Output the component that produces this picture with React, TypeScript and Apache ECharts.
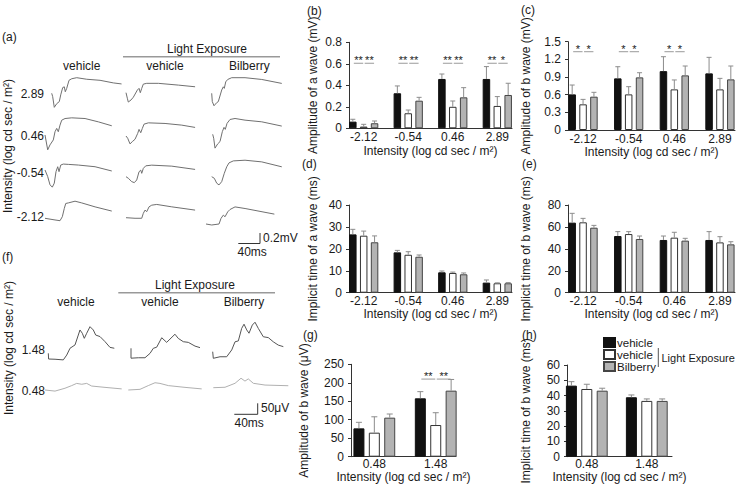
import React, { useEffect, useRef } from "react";
import * as echarts from "echarts";

const FONT = "'Liberation Sans', Arial, Helvetica, sans-serif";
const TEXT = "#1a1a1a";

// ---------- categories ----------
const intensityScotopic = ["-2.12", "-0.54", "0.46", "2.89"];
const intensityPhotopic = ["0.48", "1.48"];
const groupNames = ["vehicle", "vehicle ", "Bilberry"];

// ---------- (b) amplitude of a wave (mV) ----------
const bVehMean = [0.062, 0.326, 0.459, 0.459];
const bVehSd = [0.022, 0.068, 0.046, 0.115];
const bLEMean = [0.016, 0.14, 0.2, 0.208];
const bLESd = [0.021, 0.03, 0.054, 0.087];
const bBilMean = [0.047, 0.257, 0.288, 0.31];
const bBilSd = [0.021, 0.031, 0.09, 0.109];
const bSig = [[0, 0, 0.605], [0, 1, 0.605], [1, 0, 0.605], [1, 1, 0.605], [2, 0, 0.605], [2, 1, 0.605], [3, 0, 0.605], [3, 1, 0.605]];
const bSigText = ["**", "**", "**", "**", "**", "**", "**", "*"];

// ---------- (c) amplitude of b wave (mV) ----------
const cVehMean = [0.605, 0.877, 1.0, 0.962];
const cVehSd = [0.159, 0.198, 0.245, 0.272];
const cLEMean = [0.436, 0.605, 0.69, 0.69];
const cLESd = [0.084, 0.131, 0.16, 0.187];
const cBilMean = [0.566, 0.894, 0.928, 0.86];
const cBilSd = [0.074, 0.079, 0.159, 0.227];
const cSig = [[0, 0, 1.33], [0, 1, 1.33], [1, 0, 1.33], [1, 1, 1.33], [2, 0, 1.33], [2, 1, 1.33]];
const cSigText = ["*", "*", "*", "*", "*", "*"];

// ---------- (d) implicit time of a wave (ms) ----------
const dVehMean = [26.6, 18.4, 9.3, 4.6];
const dVehSd = [2.3, 0.9, 0.6, 1.2];
const dLEMean = [26.0, 17.3, 9.0, 4.3];
const dLESd = [2.1, 1.4, 0.4, 0.2];
const dBilMean = [23.0, 16.4, 8.4, 4.3];
const dBilSd = [2.9, 0.8, 0.6, 0.3];

// ---------- (e) implicit time of b wave (ms) ----------
const eVehMean = [63.9, 51.7, 48.1, 48.1];
const eVehSd = [8.5, 4.0, 3.6, 7.6];
const eLEMean = [64.2, 53.5, 50.2, 45.9];
const eLESd = [3.6, 2.2, 4.9, 5.2];
const eBilMean = [59.3, 49.0, 47.5, 44.1];
const eBilSd = [2.1, 2.7, 2.1, 2.4];

// ---------- (g) amplitude of b wave (uV), photopic ----------
const gVehMean = [76.7, 158];
const gVehSd = [16.3, 18];
const gLEMean = [65, 85.7];
const gLESd = [43, 33.3];
const gBilMean = [105.6, 178.7];
const gBilSd = [9.9, 30.3];
const gSig = [[1, 0, 210], [1, 1, 210]];
const gSigText = ["**", "**"];

// ---------- (h) implicit time of b wave (ms), photopic ----------
const hVehMean = [46.5, 38.9];
const hVehSd = [2.6, 1.5];
const hLEMean = [44.3, 36.5];
const hLESd = [3.1, 1.3];
const hBilMean = [43.2, 36.5];
const hBilSd = [1.6, 1.3];

// ---------- (a) scotopic ERG traces [ms, mV] ----------
const trA289Veh = [[0, 0], [1.8, -0.065], [4.7, -0.27], [9.1, -0.2], [13.8, -0.16], [16.4, -0.03], [20, 0.11], [22.9, 0.125], [24.7, 0.03], [27.3, 0.095], [31.5, 0.25], [36.4, 0.28], [45.5, 0.3], [63.7, 0.27], [87.9, 0.25], [112, 0.2], [127, 0.18]];
const trA289LE = [[0, 0], [2.4, -0.106], [4.2, -0.18], [9.1, -0.14], [13.3, -0.087], [20.6, 0.05], [23.7, 0.084], [26, 0], [28.6, 0.084], [31.5, 0.165], [37.7, 0.18], [58.8, 0.18], [95.2, 0.146], [125.6, 0.114]];
const trA289Bil = [[0, 0], [1.1, -0.16], [4.2, -0.24], [9.1, -0.18], [12, -0.16], [18.2, 0.063], [21.1, 0.125], [22.9, 0.095], [25.5, 0.22], [29.1, 0.266], [36.4, 0.3], [60.6, 0.3], [91, 0.266], [127.4, 0.19]];
const trA046Veh = [[0, 0], [4.9, -0.285], [9.1, -0.19], [15.1, -0.095], [18.2, 0.063], [21.3, 0.127], [24.2, 0.063], [27.3, 0.19], [30.4, 0.285], [36.4, 0.317], [48.6, 0.33], [72.8, 0.317], [97, 0.253], [121.4, 0.177]];
const trA046LE = [[0, 0], [3.1, -0.044], [7.3, -0.152], [11.5, -0.108], [16.4, -0.063], [21.3, 0.051], [23.7, 0.127], [26.8, 0.063], [29.7, 0.146], [32.8, 0.228], [40.6, 0.253], [71, 0.241], [101.4, 0.209], [125.6, 0.165]];
const trA046Bil = [[0, 0], [1.8, -0.076], [4.2, -0.266], [9.1, -0.184], [13.3, -0.14], [17.5, 0.05], [20.6, 0.133], [22.9, 0.095], [26, 0.209], [31.5, 0.285], [40.6, 0.304], [58.8, 0.272], [89.2, 0.24], [125.6, 0.158]];
const trAm054Veh = [[0, 0], [4.9, -0.127], [9.1, -0.285], [13.3, -0.33], [16.9, -0.253], [20, -0.032], [23.1, 0.063], [25.5, -0.032], [28.6, 0.095], [33.3, 0.114], [42.4, 0.108], [60.6, 0.095], [91, 0.063], [121.4, -0.019]];
const trAm054LE = [[0, 0], [4.2, -0.03], [10.4, -0.095], [15.1, -0.114], [19.5, -0.063], [23.7, 0.095], [26.8, 0.127], [28.6, 0.065], [31.5, 0.16], [35.9, 0.209], [46.8, 0.222], [83.2, 0.203], [125.6, 0.14]];
const trAm054Bil = [[0, 0], [4.7, -0.03], [9.1, -0.125], [13.3, -0.158], [18.2, -0.095], [22.9, 0.065], [27.3, 0.19], [31.5, 0.266], [39.3, 0.304], [60.6, 0.317], [91, 0.285], [127.4, 0.19]];
const trAm212Veh = [[0, 0], [18.2, -0.032], [27.3, -0.046], [31.5, 0.03], [35.1, 0.19], [37.7, 0.285], [42.4, 0.296], [54.6, 0.329], [66.8, 0.296], [91, 0.22], [121.4, 0.139]];
const trAm212LE = [[0, 0], [16.4, -0.011], [28.6, -0.011], [31.5, 0.084], [34.6, 0.146], [37.7, 0.116], [41.9, 0.209], [46.8, 0.241], [55.9, 0.255], [83.2, 0.209], [125.6, 0.146]];
const trAm212Bil = [[0, 0], [10.4, -0.019], [23.7, 0], [27.3, 0.108], [31.5, 0.171], [34.6, 0.139], [39.5, 0.234], [43.7, 0.279], [52.8, 0.329], [71, 0.298], [124.3, 0.19]];

// ---------- (f) photopic ERG traces [ms, uV] ----------
const trF148Veh = [[0, 0], [0.5, -26], [11.2, -27], [25, -30], [30.7, -8], [36.2, 23], [44.5, 38], [50, 83], [52.8, 106], [56.7, 91], [60, 68], [64, 91], [69.5, 121], [75, 106], [79, 83], [86.2, 76], [94.5, 53], [102.8, 27], [110, 23]];
const trF148LE = [[0, 0], [0, -45], [12.2, -43], [23.3, -43], [31.7, -23], [37.2, 0], [42.8, 5], [51.2, 48], [59.5, 27], [65, 42], [73.3, 64], [78.8, 45], [87.2, 30], [95.5, 27], [106.7, 10], [115, 3]];
const trF148Bil = [[0, 0], [1, -30], [12.2, -23], [23.3, -23], [31.7, 8], [37.2, 45], [42.7, 49], [48.3, 106], [52.2, 125], [56.7, 99], [60.5, 84], [66, 121], [70.5, 134], [76, 106], [84.3, 68], [92.7, 64], [101, 45], [109.3, 30], [117.7, 23]];
const trF048Veh = [[0, 0], [16.7, -5], [33.3, 8], [44.5, 20], [52.8, 30], [61.2, 26], [69.5, 30], [77.8, 18], [100, 12], [127.8, 5]];
const trF048LE = [[0, 0], [19.5, 3], [33.3, 20], [44.5, 33], [52.8, 30], [66.7, 20], [94.5, 12], [122.3, 5]];
const trF048Bil = [[0, 0], [19.5, 2], [36.2, 20], [46.2, 43], [52.8, 30], [58.3, 40], [66.7, 20], [86.2, 12], [125, 9]];

const X_TITLE = "Intensity (log cd sec / m²)";

const barStyles = [
  { color: "#111111", borderColor: "#111111" },
  { color: "#ffffff", borderColor: "#333333" },
  { color: "#b3b3b3", borderColor: "#444444" },
];

const panelSpecs = [
  { cats: intensityScotopic, means: [bVehMean, bLEMean, bBilMean], sds: [bVehSd, bLESd, bBilSd], sig: bSig, sigText: bSigText,
    rect: [349, 42.3, 163, 86], ymax: 0.8, yint: 0.2, xr: [-0.33, 3.33], yName: "Amplitude of a wave (mV)", yGap: 30, xGap: 17, lblMargin: 3, bw: 7.5, gap: 0.45 },
  { cats: intensityScotopic, means: [cVehMean, cLEMean, cBilMean], sds: [cVehSd, cLESd, cBilSd], sig: cSig, sigText: cSigText,
    rect: [568, 41.7, 167, 88.3], ymax: 1.5, yint: 0.3, xr: [-0.33, 3.33], yName: "Amplitude of b wave (mV)", yGap: 36, xGap: 15.5, lblMargin: 3, bw: 7.5, gap: 0.45 },
  { cats: intensityScotopic, means: [dVehMean, dLEMean, dBilMean], sds: [dVehSd, dLESd, dBilSd], sig: null, sigText: null,
    rect: [349, 205, 163, 87.7], ymax: 40, yint: 10, xr: [-0.33, 3.33], yName: "Implicit time of a wave (ms)", yGap: 30, xGap: 14.5, lblMargin: 2.5, bw: 7.5, gap: 0.45 },
  { cats: intensityScotopic, means: [eVehMean, eLEMean, eBilMean], sds: [eVehSd, eLESd, eBilSd], sig: null, sigText: null,
    rect: [568, 205, 167, 87.7], ymax: 80, yint: 20, xr: [-0.33, 3.33], yName: "Implicit time of b wave (ms)", yGap: 36, xGap: 14.5, lblMargin: 2.5, bw: 7.5, gap: 0.45 },
  { cats: intensityPhotopic, means: [gVehMean, gLEMean, gBilMean], sds: [gVehSd, gLESd, gBilSd], sig: gSig, sigText: gSigText,
    rect: [351, 364.3, 105, 92.4], ymax: 250, yint: 50, xr: [-0.38, 1.33], yName: "Amplitude of b wave (μV)", yGap: 41.5, xGap: 11, lblMargin: 1, bw: 11, gap: 0.4 },
  { cats: intensityPhotopic, means: [hVehMean, hLEMean, hBilMean], sds: [hVehSd, hLESd, hBilSd], sig: null, sigText: null,
    rect: [567, 365, 105, 91.7], ymax: 60, yint: 10, xr: [-0.33, 1.42], yName: "Implicit time of b wave (ms)", yGap: 35.5, xGap: 11, lblMargin: 1, bw: 11, gap: 0.4 },
];

// trace placement: [data, startX, startY, kind, color]
const traceSpecs: [number[][], number, number, string, string][] = [
  [trA289Veh, 51.7, 93.3, "a", "#707070"], [trA289LE, 126, 92.7, "a", "#707070"], [trA289Bil, 211.7, 93.3, "a", "#707070"],
  [trA046Veh, 45, 135, "a", "#707070"], [trA046LE, 126, 136, "a", "#707070"], [trA046Bil, 212.7, 134.3, "a", "#707070"],
  [trAm054Veh, 45, 170, "a", "#707070"], [trAm054LE, 126, 176.7, "a", "#707070"], [trAm054Bil, 211.7, 176.7, "a", "#707070"],
  [trAm212Veh, 45, 218.3, "a", "#707070"], [trAm212LE, 126, 217.7, "a", "#707070"], [trAm212Bil, 206, 224, "a", "#707070"],
  [trF148Veh, 48.3, 353.3, "f", "#555"], [trF148LE, 131, 348.3, "f", "#555"], [trF148Bil, 212.7, 351.7, "f", "#555"],
  [trF048Veh, 45, 390, "f", "#b0b0b0"], [trF048LE, 128.3, 390, "f", "#b0b0b0"], [trF048Bil, 213.3, 387.7, "f", "#b0b0b0"],
];

function buildOption() {
  const grid: any[] = [];
  const xAxis: any[] = [];
  const yAxis: any[] = [];
  const series: any[] = [];
  const nameStyle = { fontSize: 12, color: TEXT, fontFamily: FONT };

  panelSpecs.forEach((p) => {
    const gi = grid.length;
    const [left, top, width, height] = p.rect;
    grid.push({ left, top, width, height, containLabel: false, outerBoundsMode: "none" });
    const cats = p.cats;
    xAxis.push({
      gridIndex: gi, type: "value", min: p.xr[0], max: p.xr[1],
      axisLine: { show: true, onZero: false, lineStyle: { color: "#333", width: 1 } },
      axisTick: { show: false }, splitLine: { show: false },
      axisLabel: { customValues: cats.map((_: string, i: number) => i), formatter: (v: number) => cats[Math.round(v)] ?? "", fontSize: 12, color: TEXT, margin: p.lblMargin, fontFamily: FONT },
      name: X_TITLE, nameLocation: "middle", nameGap: p.xGap, nameTextStyle: nameStyle,
    });
    yAxis.push({
      gridIndex: gi, type: "value", min: 0, max: p.ymax, interval: p.yint,
      axisLine: { show: true, onZero: false, lineStyle: { color: "#333", width: 1 } },
      axisTick: { show: true, inside: false, length: 3, lineStyle: { color: "#333" } },
      splitLine: { show: false },
      axisLabel: { fontSize: 12, color: TEXT, margin: 7, fontFamily: FONT },
      name: p.yName, nameLocation: "middle", nameGap: p.yGap, nameTextStyle: nameStyle,
    });
    const step = p.bw * (1 + p.gap);
    for (let k = 0; k < 3; k++) {
      series.push({
        type: "bar", name: groupNames[k], xAxisIndex: gi, yAxisIndex: gi,
        data: p.means[k].map((m: number, i: number) => [i, m]),
        barWidth: p.bw, barGap: `${p.gap * 100}%`,
        itemStyle: { ...barStyles[k], borderWidth: 1 }, silent: true, z: 2,
      });
    }
    for (let k = 0; k < 3; k++) {
      const off = (k - 1) * step;
      const cap = p.bw > 9 ? 3 : 2.5;
      series.push({
        type: "custom", xAxisIndex: gi, yAxisIndex: gi, silent: true, z: 3,
        data: p.means[k].map((m: number, i: number) => [i, m, p.sds[k][i]]),
        renderItem: (_params: any, api: any) => {
          const c = api.value(0), m = api.value(1), s = api.value(2);
          const p0 = api.coord([c, m]);
          const p1 = api.coord([c, m + s]);
          const x = p0[0] + off;
          return {
            type: "group",
            children: [
              { type: "line", shape: { x1: x, y1: p0[1], x2: x, y2: p1[1] }, style: { stroke: "#8c8c8c", lineWidth: 1 } },
              { type: "line", shape: { x1: x - cap, y1: p1[1], x2: x + cap, y2: p1[1] }, style: { stroke: "#8c8c8c", lineWidth: 1 } },
            ],
          };
        },
      });
    }
    if (p.sig) {
      const labels = p.sigText as string[];
      series.push({
        type: "custom", xAxisIndex: gi, yAxisIndex: gi, silent: true, z: 4,
        data: p.sig,
        renderItem: (params: any, api: any) => {
          const c = api.value(0), pair = api.value(1), lvl = api.value(2);
          const pt = api.coord([c, lvl]);
          const xa = pt[0] + (pair - 1) * step + 1;
          const xb = pt[0] + pair * step - 0.5;
          return {
            type: "group",
            children: [
              { type: "line", shape: { x1: xa, y1: pt[1], x2: xb, y2: pt[1] }, style: { stroke: "#9a9a9a", lineWidth: 1 } },
              { type: "text", x: (xa + xb) / 2, y: pt[1] - 3, style: { text: labels[params.dataIndex], align: "center", verticalAlign: "middle", fill: TEXT, font: `11px ${FONT}` } },
            ],
          };
        },
      });
    }
  });

  traceSpecs.forEach(([data, x0, y0, kind, color]) => {
    const gi = grid.length;
    const W = kind === "a" ? 71.5 : 78;
    const H = kind === "a" ? 52 : 66;
    const yr = kind === "a" ? 0.5 : 150;
    grid.push({ left: x0, top: y0 - H / 2, width: W, height: H, containLabel: false, outerBoundsMode: "none" });
    xAxis.push({ gridIndex: gi, type: "value", min: 0, max: 130, show: false });
    yAxis.push({ gridIndex: gi, type: "value", min: -yr, max: yr, show: false });
    series.push({
      type: "line", xAxisIndex: gi, yAxisIndex: gi, data, showSymbol: false, symbol: "none",
      lineStyle: { color, width: 1 }, clip: false, silent: true,
    });
  });

  const t = (x: number, y: number, text: string, align = "left", extra: any = {}, size = 12) => ({
    type: "text", x, y, silent: true, ...extra,
    style: { text, align, verticalAlign: "middle", fill: TEXT, font: `${size}px ${FONT}` },
  });
  const ln = (x1: number, y1: number, x2: number, y2: number, stroke = "#333", lineWidth = 1) => ({
    type: "line", silent: true, shape: { x1, y1, x2, y2 }, style: { stroke, lineWidth },
  });

  const elements: any[] = [
    // panel labels
    t(2, 37, "(a)"), t(307, 11, "(b)"), t(521, 10, "(c)"), t(302, 164, "(d)"), t(522, 164, "(e)"),
    t(2, 257, "(f)"), t(303, 335, "(g)"), t(522, 335, "(h)"),
    // (a) header
    t(207, 49.3, "Light Exposure", "center"), ln(123, 56.7, 280, 56.7, "#999", 1.5),
    t(81.7, 65.7, "vehicle", "center"), t(165, 65.7, "vehicle", "center"), t(249.3, 65.7, "Bilberry", "center"),
    t(44, 94, "2.89", "right"), t(44, 135.7, "0.46", "right"), t(44, 173.3, "-0.54", "right"), t(44, 216.7, "-2.12", "right"),
    t(8, 146, X_TITLE, "center", { rotation: Math.PI / 2 }),
    ln(260, 233, 260, 243.5), ln(238.3, 243.5, 260, 243.5),
    t(263, 237.5, "0.2mV"), t(237.5, 252, "40ms"),
    // (f) header
    t(195, 285, "Light Exposure", "center"), ln(118.3, 292.7, 275, 292.7, "#999", 1.5),
    t(76, 301.7, "vehicle", "center"), t(160, 301.7, "vehicle", "center"), t(244, 301.7, "Bilberry", "center"),
    t(45, 350, "1.48", "right"), t(45, 390.7, "0.48", "right"),
    t(8.5, 348, X_TITLE, "center", { rotation: Math.PI / 2 }),
    ln(257.7, 403.3, 257.7, 414.3), ln(234.3, 414.3, 257.7, 414.3),
    t(261, 407.7, "50μV"), t(234.5, 422.7, "40ms"),
    // legend bracket
    ln(658.3, 348, 658.3, 367, "#555", 1), t(661.5, 358, "Light Exposure", "left", {}, 11),
  ];

  return {
    animation: false,
    backgroundColor: "#ffffff",
    textStyle: { fontFamily: FONT },
    grid, xAxis, yAxis, series,
    legend: {
      data: groupNames, orient: "vertical", left: 603, top: 336.5, padding: 0,
      itemWidth: 11, itemHeight: 9, itemGap: 0, icon: "rect", selectedMode: false,
      formatter: (n: string) => n.trim(),
      textStyle: { fontSize: 11.5, color: TEXT, fontFamily: FONT, lineHeight: 11, padding: [0, 0, 0, -3] },
    },
    graphic: { elements },
  };
}

export default function App() {
  const ref = useRef<HTMLDivElement>(null);
  useEffect(() => {
    if (!ref.current) return;
    const chart = echarts.init(ref.current, undefined, { renderer: "svg" });
    chart.setOption(buildOption() as any);
    return () => chart.dispose();
  }, []);
  return (
    <div style={{ position: "fixed", left: 0, top: 0, width: 740, height: 484, background: "#fff" }}>
      <div ref={ref} style={{ width: 740, height: 484 }} />
    </div>
  );
}
